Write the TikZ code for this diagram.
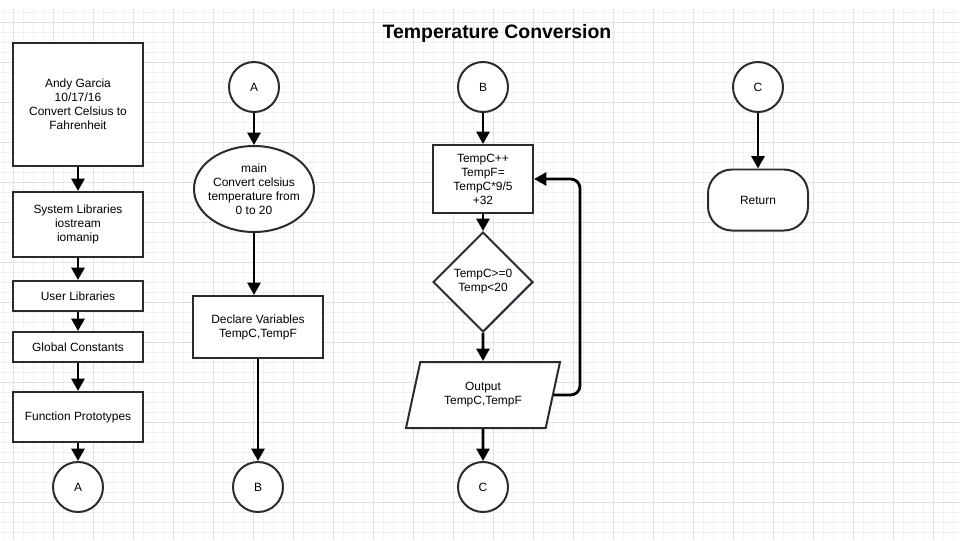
\documentclass[tikz,border=0pt]{standalone}
\usepackage{fontspec}
\setmainfont{Liberation Sans}
\usepackage{xcolor}
\usepackage{tikz}
\usetikzlibrary{arrows.meta, shapes.geometric, calc}

\definecolor{gridminor}{HTML}{F0F0F6}
\definecolor{gridmajor}{HTML}{E0E0EC}
\definecolor{edgegray}{HTML}{2B2B2B}

\tikzset{
  shapeline/.style={draw=edgegray, line width=1.7pt, fill=white, align=center, inner sep=0pt,
    font=\fontsize{10.2}{11.9}\selectfont},
  procbox/.style={shapeline, rectangle, minimum width=39mm},
  link/.style={shapeline, circle, minimum size=15mm},
  flow/.style={-{Triangle[length=10.5pt, width=11pt]}, line width=2.4pt, black},
}

\begin{document}
\begin{tikzpicture}[x=0.3mm, y=-0.3mm]
  \useasboundingbox (0,0) rectangle (960,540);
  \fill[white] (0,0) rectangle (960,540);
  \foreach \gx in {3,13,...,953} \draw[gridminor, line width=0.6pt] (\gx,9) -- (\gx,540);
  \foreach \gy in {12,22,...,532} \draw[gridminor, line width=0.6pt] (0,\gy) -- (960,\gy);
  \foreach \gx in {13,53,...,933} \draw[gridmajor, line width=0.6pt] (\gx,9) -- (\gx,540);
  \foreach \gy in {22,62,...,502} \draw[gridmajor, line width=0.6pt] (0,\gy) -- (960,\gy);

  \node[font=\bfseries\fontsize{16.6}{20}\selectfont] (title) at (497,33) {Temperature Conversion};

  \node[procbox, minimum height=36.9mm] (header) at (78,104.5) {Andy Garcia\\10/17/16\\Convert Celsius to\\Fahrenheit};
  \node[procbox, minimum height=19.5mm] (syslib) at (78,224.5) {System Libraries\\iostream\\iomanip};
  \node[procbox, minimum height=9mm] (userlib) at (78,296) {User Libraries};
  \node[procbox, minimum height=9mm] (globconst) at (78,347) {Global Constants};
  \node[procbox, minimum height=15mm] (protos) at (78,417) {Function Prototypes};
  \node[link] (toA) at (78,487) {A};

  \node[link] (fromA) at (254,87) {A};
  \node[shapeline, ellipse, inner xsep=-4pt, minimum width=36mm, minimum height=25.8mm] (main) at (254,189) {main\\Convert celsius\\temperature from\\0 to 20};
  \node[procbox, minimum height=18.6mm] (declare) at (258,327) {Declare Variables\\TempC,TempF};
  \node[link] (toB) at (258,487) {B};

  \node[link] (fromB) at (483,87) {B};
  \node[procbox, minimum width=30mm, minimum height=20.4mm] (update) at (483,179) {TempC++\\TempF=\\TempC*9/5\\+32};
  \node[shapeline, diamond, aspect=1, minimum width=30mm, minimum height=30mm] (test) at (483,282) {TempC>=0\\Temp<20};
  \node[shapeline, trapezium, trapezium left angle=60, trapezium right angle=120, trapezium stretches body,
    minimum width=46.2mm, minimum height=19.8mm] (output) at (483,395) {Output\\TempC,TempF};
  \node[link] (toC) at (483,487) {C};
  \coordinate (loopx) at (580,395);

  \node[link] (fromC) at (758,87) {C};
  \node[shapeline, rectangle, rounded corners=7.2mm, minimum width=30mm, minimum height=18.3mm] (finish) at (758,200) {Return};

  \draw[flow] (header) -- (syslib);
  \draw[flow] (syslib) -- (userlib);
  \draw[flow] (userlib) -- (globconst);
  \draw[flow] (globconst) -- (protos);
  \draw[flow] (protos) -- (toA);

  \draw[flow] (fromA) -- (main);
  \draw[flow] (main.south) -- (main.south |- declare.north);
  \draw[flow] (declare) -- (toB);

  \draw[flow] (fromB) -- (update);
  \draw[flow] (update) -- (test);
  \draw[flow] (test) -- (output);
  \draw[flow] (output) -- (toC);
  \draw[flow, rounded corners=8pt] (output.east) -- (loopx) |- (update.east);

  \draw[flow] (fromC) -- (finish);
\end{tikzpicture}
\end{document}
